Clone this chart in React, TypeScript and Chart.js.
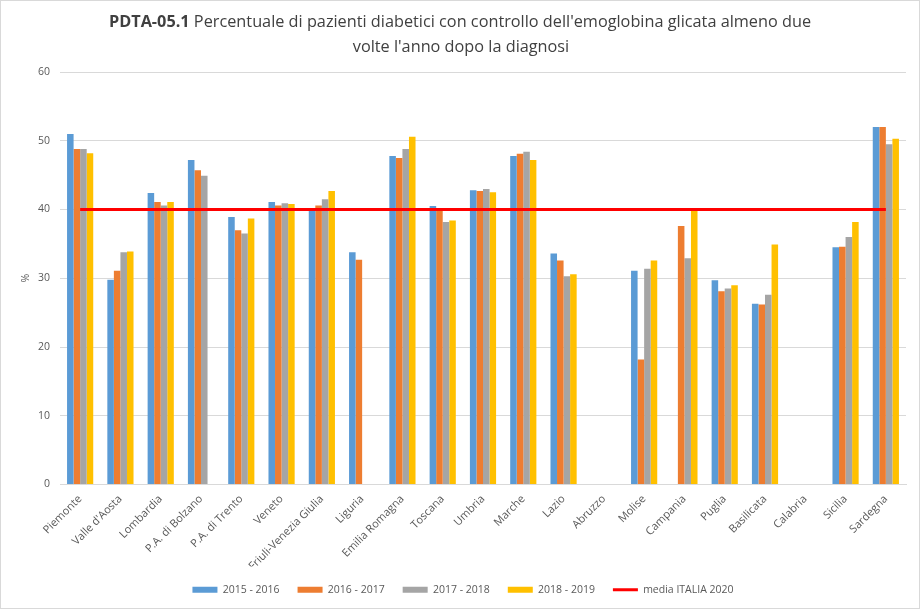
import { useEffect, useRef } from "react";
import { Chart, registerables } from "chart.js";

Chart.register(...registerables);

const categories = [
  "Piemonte", "Valle d'Aosta", "Lombardia", "P.A. di Bolzano", "P.A. di Trento", "Veneto",
  "Friuli-Venezia Giulia", "Liguria", "Emilia Romagna", "Toscana", "Umbria", "Marche",
  "Lazio", "Abruzzo", "Molise", "Campania", "Puglia", "Basilicata", "Calabria", "Sicilia", "Sardegna",
];

const seriesLabels = ["2015 - 2016", "2016 - 2017", "2017 - 2018", "2018 - 2019"];
const seriesColors = ["#5b9bd5", "#ed7d31", "#a5a5a5", "#ffc000"];

const values2015_2016 = [51.0, 29.8, 42.4, 47.2, 38.9, 41.1, 39.8, 33.8, 47.8, 40.5, 42.8, 47.8, 33.6, null, 31.1, null, 29.7, 26.3, null, 34.5, 52.0];
const values2016_2017 = [48.8, 31.1, 41.1, 45.7, 37.0, 40.6, 40.6, 32.7, 47.5, 40.0, 42.7, 48.1, 32.6, null, 18.2, 37.6, 28.1, 26.2, null, 34.6, 52.0];
const values2017_2018 = [48.8, 33.8, 40.6, 44.9, 36.5, 40.9, 41.5, null, 48.8, 38.2, 43.0, 48.4, 30.3, null, 31.4, 32.9, 28.5, 27.6, null, 36.0, 49.5];
const values2018_2019 = [48.2, 33.9, 41.1, null, 38.7, 40.8, 42.7, null, 50.6, 38.4, 42.5, 47.2, 30.6, null, 32.6, 39.8, 29.0, 34.9, null, 38.2, 50.3];

const mediaLabel = "media ITALIA 2020";
const mediaItalia2020 = categories.map(() => 40);

const yMin = 0;
const yMax = 60;
const yStep = 10;
const yTitle = "%";

const titleBold = "PDTA-05.1";
const titleRest = " Percentuale di pazienti diabetici con controllo dell'emoglobina glicata almeno due";
const titleLine2 = "volte l'anno dopo la diagnosi";

const FONT = '"Open Sans", sans-serif';
const TEXT = "#595959";

const framePlugin = {
  id: "frame",
  beforeDraw(chart: any) {
    const { ctx, width, height } = chart;
    ctx.save();
    ctx.fillStyle = "#ffffff";
    ctx.fillRect(0, 0, width, height);
    ctx.restore();
  },
  afterDraw(chart: any) {
    const { ctx, width, height } = chart;
    ctx.save();
    ctx.strokeStyle = "#d9d9d9";
    ctx.lineWidth = 1;
    ctx.strokeRect(0.5, 0.5, width - 2, height - 2);

    // title
    const targetWidth = 703;
    let size = 16;
    ctx.font = `bold ${size}px ${FONT}`;
    let wb = ctx.measureText(titleBold).width;
    ctx.font = `${size}px ${FONT}`;
    let wr = ctx.measureText(titleRest).width;
    size = size * targetWidth / (wb + wr);
    ctx.font = `bold ${size}px ${FONT}`;
    wb = ctx.measureText(titleBold).width;
    ctx.font = `${size}px ${FONT}`;
    wr = ctx.measureText(titleRest).width;
    const cx = 460;
    const x = cx - (wb + wr) / 2;
    ctx.textBaseline = "middle";
    ctx.textAlign = "left";
    ctx.fillStyle = "#404040";
    ctx.font = `bold ${size}px ${FONT}`;
    ctx.fillText(titleBold, x, 22);
    ctx.font = `${size}px ${FONT}`;
    ctx.fillText(titleRest, x + wb, 22);
    const w2 = ctx.measureText(titleLine2).width;
    ctx.fillText(titleLine2, 461 - w2 / 2, 47);
    ctx.restore();
  },
};

export default function App() {
  const ref = useRef<HTMLCanvasElement | null>(null);

  useEffect(() => {
    if (!ref.current) return;
    const seriesValues = [values2015_2016, values2016_2017, values2017_2018, values2018_2019];
    const barSets = seriesValues.map((data, i) => ({
      type: "bar" as const,
      label: seriesLabels[i],
      data,
      backgroundColor: seriesColors[i],
      borderWidth: 0,
      categoryPercentage: 0.65,
      barPercentage: 1.0,
      order: 1,
    }));
    const chart = new Chart(ref.current, {
      type: "bar",
      data: {
        labels: categories,
        datasets: [
          ...barSets,
          {
            type: "line" as const,
            label: mediaLabel,
            data: mediaItalia2020,
            borderColor: "#ff0000",
            backgroundColor: "#ff0000",
            borderWidth: 3,
            pointRadius: 0,
            pointHoverRadius: 0,
            fill: false,
            order: 0,
          } as any,
        ],
      },
      options: {
        animation: false,
        responsive: false,
        maintainAspectRatio: false,
        layout: { padding: { top: 72, right: 15, bottom: 5, left: 20 } },
        plugins: {
          title: { display: false },
          tooltip: { enabled: false },
          legend: {
            position: "bottom",
            labels: {
              font: { family: FONT, size: 10.5 },
              color: TEXT,
              usePointStyle: true,
              pointStyleWidth: 25,
              boxHeight: 6,
              padding: 18,
              generateLabels: () => [
                ...seriesLabels.map((t, i) => ({
                  text: t,
                  fillStyle: seriesColors[i],
                  strokeStyle: seriesColors[i],
                  lineWidth: 0,
                  pointStyle: "rect",
                  hidden: false,
                  datasetIndex: i,
                  fontColor: TEXT,
                })),
                {
                  text: mediaLabel,
                  fillStyle: "#ff0000",
                  strokeStyle: "#ff0000",
                  lineWidth: 3,
                  pointStyle: "line",
                  hidden: false,
                  datasetIndex: 4,
                  fontColor: TEXT,
                },
              ] as any,
            },
          },
        },
        scales: {
          x: {
            grid: { display: false, drawTicks: false },
            border: { display: true, color: "#d9d9d9" },
            ticks: {
              autoSkip: false,
              maxRotation: 45,
              minRotation: 45,
              padding: 8,
              font: { family: FONT, size: 11 },
              color: TEXT,
            },
            afterFit: (s: any) => { s.height = 82; },
          },
          y: {
            min: yMin,
            max: yMax,
            ticks: {
              stepSize: yStep,
              padding: 10,
              font: { family: FONT, size: 10.5 },
              color: TEXT,
            },
            grid: { color: "#d9d9d9", drawTicks: false },
            border: { display: false },
            title: {
              display: true,
              text: yTitle,
              font: { family: FONT, size: 10.5 },
              color: TEXT,
              padding: { top: 0, bottom: 0 },
            },
            afterFit: (s: any) => { s.width = 40; },
          },
        },
      },
      plugins: [framePlugin],
    });
    return () => chart.destroy();
  }, []);

  return (
    <div style={{ position: "fixed", left: 0, top: 0, width: 921, height: 610 }}>
      <canvas ref={ref} width={921} height={610} style={{ width: 921, height: 610, display: "block" }} />
    </div>
  );
}
